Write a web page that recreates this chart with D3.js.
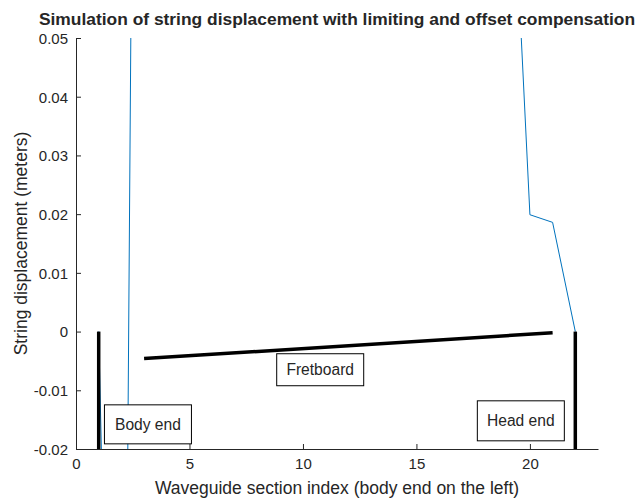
<!DOCTYPE html>
<html>
<head>
<meta charset="utf-8">
<script src="https://cdn.jsdelivr.net/npm/d3@7"></script>
<style>
  body { margin: 0; background: #fff; }
  text { font-family: "Liberation Sans", Arial, sans-serif; fill: #262626; }
</style>
</head>
<body>
<div id="chart"></div>
<script>
// waveguide section index and string displacement (m)
var sectionIdx = [1, 2, 3, 4, 5, 6, 7, 8, 9, 10, 11, 12, 13, 14, 15, 16, 17, 18, 19, 20, 21, 22];
var displacement = [0, -0.17, 0.36, 0.52, 0.61, 0.66, 0.68, 0.67, 0.64, 0.6, 0.55, 0.49, 0.42, 0.35, 0.28, 0.21, 0.15, 0.12, 0.099, 0.0199, 0.0186, 0];

// fretboard and the two string ends
var fretX = [3, 21];
var fretY = [-0.0046, -0.0002];
var bodyEnd = [[1, 0], [1, -0.02]];
var headEnd = [[22, 0], [22, -0.02]];

var xTicks = [0, 5, 10, 15, 20];
var yTicks = [-0.02, -0.01, 0, 0.01, 0.02, 0.03, 0.04, 0.05];

var labels = ['Body end', 'Head end', 'Fretboard'];

var W = 643, H = 498;
var margin = {left: 76, right: 45, top: 38, bottom: 49};

var svg = d3.select('#chart').append('svg')
	.attr('width', W)
	.attr('height', H);

var xScale = d3.scaleLinear()
	.domain([0, 23])
	.range([margin.left, W - margin.right]);

var yScale = d3.scaleLinear()
	.domain([-0.02, 0.05])
	.range([H - margin.bottom, margin.top]);

svg.append('clipPath').attr('id', 'clip')
	.append('rect')
	.attr('x', xScale(0))
	.attr('y', yScale(0.05))
	.attr('width', xScale(23) - xScale(0))
	.attr('height', yScale(-0.02) - yScale(0.05));

// axes (box off, ticks pointing inward)
var xAxis = d3.axisBottom(xScale).tickValues(xTicks).tickSizeInner(-5).tickSizeOuter(0).tickPadding(9);
var yAxis = d3.axisLeft(yScale).tickValues(yTicks).tickSizeInner(-5).tickSizeOuter(0).tickPadding(8)
	.tickFormat(function(d){ return String(+d.toFixed(2)); });

var gx = svg.append('g')
	.attr('transform', 'translate(0,' + yScale(-0.02) + ')')
	.call(xAxis);
var gy = svg.append('g')
	.attr('transform', 'translate(' + xScale(0) + ',0)')
	.call(yAxis);

[gx, gy].forEach(function(g){
	g.selectAll('path,line').attr('stroke', '#262626').attr('stroke-width', 1);
	g.selectAll('text').style('font-size', '15px').attr('fill', '#262626')
		.style('font-family', '"Liberation Sans", Arial, sans-serif');
});
gy.selectAll('text').attr('x', -8).attr('dy', '0.36em');

var line = d3.line()
	.x(function(d){ return xScale(d[0]); })
	.y(function(d){ return yScale(d[1]); });

// string
svg.append('path')
	.attr('clip-path', 'url(#clip)')
	.attr('d', line(d3.zip(sectionIdx, displacement)))
	.attr('fill', 'none')
	.attr('stroke', '#0072bd')
	.attr('stroke-width', 1);

// fretboard and ends
svg.append('path')
	.attr('d', line(d3.zip(fretX, fretY)))
	.attr('stroke', '#000')
	.attr('stroke-width', 3.5)
	.attr('fill', 'none');

[bodyEnd, headEnd].forEach(function(p){
	svg.append('path')
		.attr('d', line(p))
		.attr('stroke', '#000')
		.attr('stroke-width', 3.5)
		.attr('fill', 'none');
});

// text boxes: centre in data coords, box size in px
var boxPos = [[3.17, -0.0158, 87, 39], [19.6, -0.0152, 87, 40], [10.76, -0.0065, 87, 32]];

labels.forEach(function(t, i){
	var p = boxPos[i];
	var cx = xScale(p[0]), cy = yScale(p[1]);
	svg.append('rect')
		.attr('x', cx - p[2] / 2)
		.attr('y', cy - p[3] / 2)
		.attr('width', p[2])
		.attr('height', p[3])
		.attr('fill', '#fff')
		.attr('stroke', '#000')
		.attr('stroke-width', 1);
	svg.append('text')
		.attr('x', cx)
		.attr('y', cy)
		.attr('dy', '0.35em')
		.attr('text-anchor', 'middle')
		.style('font-size', '15.6px')
		.attr('fill', '#000')
		.text(t);
});

// title and axis labels
svg.append('text')
	.attr('x', (xScale(0) + xScale(23)) / 2)
	.attr('y', 25)
	.attr('text-anchor', 'middle')
	.style('font-size', '17.4px')
	.style('font-weight', 'bold')
	.attr('fill', '#000')
	.text('Simulation of string displacement with limiting and offset compensation');

svg.append('text')
	.attr('x', (xScale(0) + xScale(23)) / 2)
	.attr('y', 494)
	.attr('text-anchor', 'middle')
	.style('font-size', '17.5px')
	.text('Waveguide section index (body end on the left)');

svg.append('text')
	.attr('transform', 'translate(27,' + (yScale(-0.02) + yScale(0.05)) / 2 + ') rotate(-90)')
	.attr('text-anchor', 'middle')
	.style('font-size', '17.5px')
	.text('String displacement (meters)');
</script>
</body>
</html>
